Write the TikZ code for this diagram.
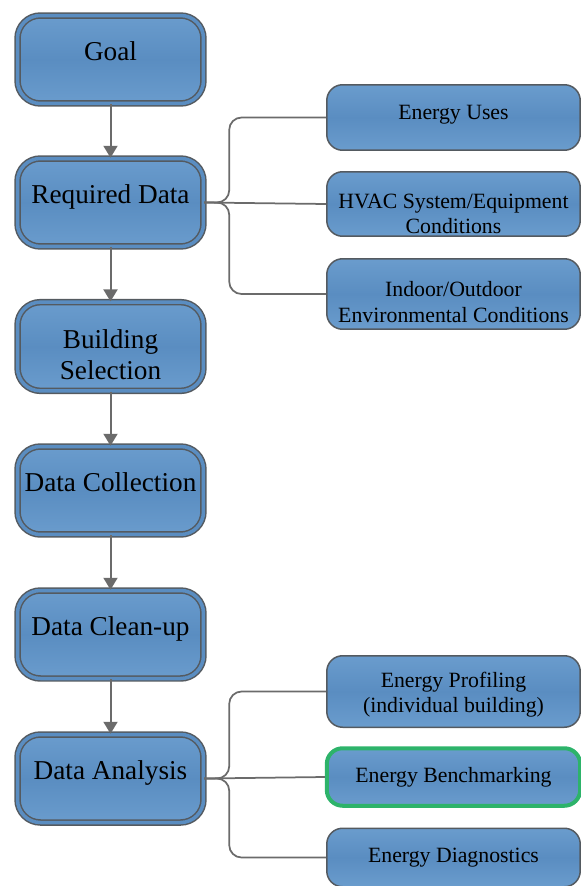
\documentclass[tikz,border=0pt]{standalone}
\usepackage{fontspec}
\setmainfont{Liberation Serif}
\usepackage{xcolor}
\definecolor{boxblue}{HTML}{5A8DC1}
\definecolor{boxtop}{HTML}{6A9CCD}
\definecolor{boxline}{HTML}{545A60}
\definecolor{linkgray}{HTML}{6B6B6B}
\definecolor{benchgreen}{HTML}{2DB36A}
\usetikzlibrary{arrows.meta, positioning}

\begin{document}
\begin{tikzpicture}[
  x={(0.02cm,0)}, y={(0,-0.02cm)},
  stepbox/.style={rectangle, rounded corners=13pt, draw=boxline, line width=0.03cm,
    double=boxblue, double distance=0.07cm, top color=boxtop, bottom color=boxtop,
    middle color=boxblue, minimum width=3.72cm, minimum height=1.76cm,
    text depth=0.34cm, align=center, font=\fontsize{15.5}{18}\selectfont},
  itembox/.style={rectangle, rounded corners=9pt, draw=boxline, line width=0.03cm,
    top color=boxtop, bottom color=boxtop, middle color=boxblue,
    minimum width=5.07cm, align=center, font=\fontsize{12.4}{14.7}\selectfont},
  flow/.style={-{Triangle[width=0.28cm, length=0.24cm]}, linkgray, line width=0.04cm},
  link/.style={linkgray, line width=0.035cm, rounded corners=7pt}
]
\useasboundingbox (0,0) rectangle (581,886);
\clip (0,0) rectangle (581,886);

% main steps
\node[stepbox] (goal) at (110.5, 59.5) {Goal};
\node[stepbox] (req) at (110.5, 202.5) {Required Data};
\node[stepbox, text depth=0.1cm, text height=1.44cm] (sel) at (110.5, 346.5) {Building\\Selection};
\node[stepbox] (coll) at (110.5, 490.5) {Data Collection};
\node[stepbox] (clean) at (110.5, 634.5) {Data Clean-up};
\node[stepbox] (ana) at (110.5, 778.5) {Data Analysis};
\draw[flow] (goal.south) -- (req.north);
\draw[flow] (req.south) -- (sel.north);
\draw[flow] (sel.south) -- (coll.north);
\draw[flow] (coll.south) -- (clean.north);
\draw[flow] (clean.south) -- (ana.north);

% required data
\node[itembox, minimum height=1.31cm, text depth=0.2cm] (uses) at (453.5, 117.5) {Energy Uses};
\node[itembox, minimum height=1.29cm, inner ysep=0pt, text height=1.2cm, text depth=0cm] (hvac) at (453.5, 204) {HVAC System/Equipment\\Conditions};
\node[itembox, minimum height=1.41cm, inner ysep=0pt, text height=1.12cm, text depth=0cm] (env) at (453.5, 294) {Indoor/Outdoor\\Environmental Conditions};
\draw[link] (req.east) -- ++(25,0) |- (uses.west);
\draw[link] (req.east) -- (hvac.west);
\draw[link] (req.east) -- ++(25,0) |- (env.west);

% analysis
\node[itembox, minimum height=1.43cm, text height=0.95cm] (prof) at (453.5, 691.5) {Energy Profiling\\(individual building)};
\node[itembox, minimum height=1.15cm, draw=benchgreen, line width=0.08cm] (bench) at (453.5, 777) {Energy Benchmarking};
\node[itembox, minimum height=1.17cm] (diag) at (453.5, 857.5) {Energy Diagnostics};
\draw[link] (ana.east) -- ++(25,0) |- (prof.west);
\draw[link] (ana.east) -- (bench.west);
\draw[link] (ana.east) -- ++(25,0) |- (diag.west);
\end{tikzpicture}
\end{document}
